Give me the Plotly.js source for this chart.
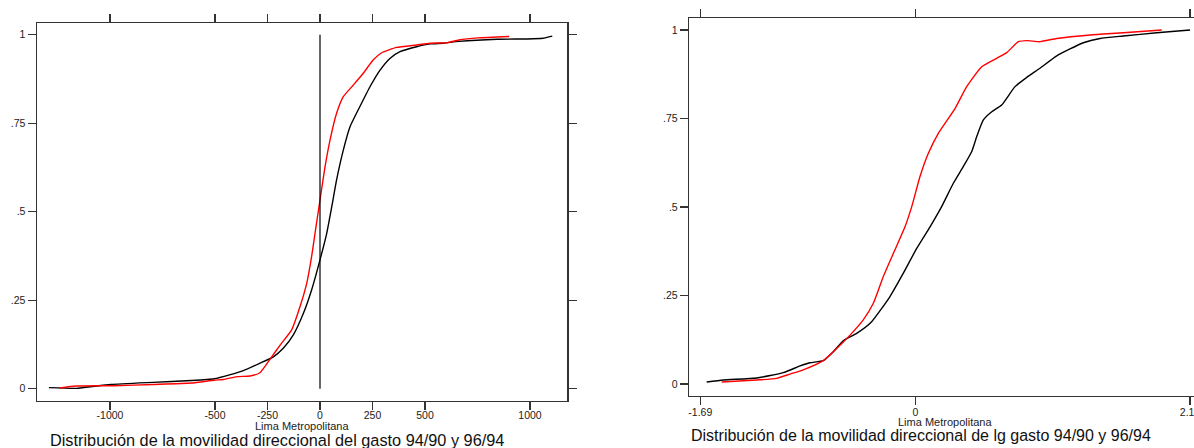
<!DOCTYPE html>
<html><head><meta charset="utf-8">
<script src="https://cdn.plot.ly/plotly-3.0.1.min.js"></script>
<style>html,body{margin:0;padding:0;background:#fff}#chart{width:1194px;height:448px}</style>
</head><body><div id="chart"></div>
<script>
// ---- Left chart data (gasto, level change) ----
const gastoBlackX = [-1291,-1160,-1087,-996,-796,-613,-504,-431,-365,-286,-222,-175,-127,-79,-40,0,32,56,79,111,143,190,238,286,333,381,460,524,588,661,843,989,1061,1106];
const gastoBlackY = [0.003,0.001,0.006,0.012,0.018,0.023,0.028,0.039,0.051,0.072,0.090,0.114,0.152,0.213,0.279,0.364,0.439,0.514,0.590,0.674,0.740,0.797,0.853,0.900,0.933,0.952,0.966,0.974,0.976,0.981,0.987,0.988,0.990,0.996];
const gastoRedX = [-1242,-1160,-978,-796,-613,-504,-460,-395,-333,-286,-230,-190,-135,-95,-63,-40,-19,0,24,48,79,111,159,206,254,294,365,460,524,603,661,752,901];
const gastoRedY = [0.002,0.0075,0.0085,0.012,0.016,0.024,0.026,0.034,0.036,0.045,0.090,0.123,0.166,0.232,0.298,0.373,0.458,0.533,0.627,0.703,0.778,0.825,0.858,0.891,0.929,0.949,0.964,0.971,0.976,0.977,0.985,0.991,0.995];
const refLineX = [0, 0];
const refLineY = [0, 1];
const gastoTicks = [-1000,-500,-250,0,250,500,1000];

// ---- Right chart data (log gasto change) ----
const lgBlackX = [-1.640,-1.509,-1.247,-1.038,-0.906,-0.828,-0.723,-0.645,-0.566,-0.461,-0.343,-0.199,-0.094,0.011,0.116,0.207,0.299,0.377,0.443,0.483,0.535,0.601,0.679,0.784,0.876,0.980,1.112,1.321,1.452,1.635,1.898,2.160];
const lgBlackY = [0.0056,0.0113,0.017,0.032,0.051,0.060,0.066,0.091,0.122,0.143,0.176,0.247,0.313,0.383,0.444,0.501,0.567,0.614,0.656,0.699,0.746,0.769,0.788,0.840,0.866,0.892,0.927,0.964,0.976,0.983,0.992,1.000];
const lgRedX = [-1.522,-1.247,-1.090,-0.985,-0.881,-0.723,-0.618,-0.513,-0.409,-0.330,-0.252,-0.160,-0.081,-0.028,0.037,0.102,0.181,0.312,0.404,0.522,0.640,0.719,0.810,0.876,0.980,1.112,1.374,1.635,1.937];
const lgRedY = [0.0056,0.0113,0.016,0.028,0.040,0.066,0.100,0.138,0.181,0.228,0.303,0.379,0.444,0.501,0.586,0.651,0.708,0.778,0.840,0.896,0.920,0.936,0.967,0.970,0.967,0.976,0.986,0.992,1.000];
const lgTicks = [-1.69, 0, 2.16];
const lgTickText = ['-1.69', '0', '2.16'];

const yTicks = [0, 0.25, 0.5, 0.75, 1];
const yTickText = ['0', '.25', '.5', '.75', '1'];

const axisTitle = 'Lima Metropolitana';
const subLeft = 'Distribución de la movilidad direccional del gasto 94/90 y 96/94';
const subRight = 'Distribución de la movilidad direccional de lg gasto 94/90 y 96/94';

const W = 1194, H = 448;
const px = v => v / W;
const py = v => 1 - v / H;
const FONT = 'Liberation Sans, Arial, sans-serif';
const INK = '#333';
const tickFont = {family: FONT, size: 10.5, color: '#222'};

const lineStyle = (c) => ({color: c, width: 1.4, shape: 'spline', smoothing: 0.5});

const traces = [
  {x: gastoBlackX, y: gastoBlackY, xaxis: 'x', yaxis: 'y', mode: 'lines', line: lineStyle('#000000'), hoverinfo: 'skip'},
  {x: gastoRedX, y: gastoRedY, xaxis: 'x', yaxis: 'y', mode: 'lines', line: lineStyle('#ff0000'), hoverinfo: 'skip'},
  {x: refLineX, y: refLineY, xaxis: 'x', yaxis: 'y', mode: 'lines', line: {color: '#000', width: 1.2}, hoverinfo: 'skip'},
  {x: lgBlackX, y: lgBlackY, xaxis: 'x2', yaxis: 'y2', mode: 'lines', line: lineStyle('#000000'), hoverinfo: 'skip'},
  {x: lgRedX, y: lgRedY, xaxis: 'x2', yaxis: 'y2', mode: 'lines', line: lineStyle('#ff0000'), hoverinfo: 'skip'}
];

const baseAxis = {showgrid: false, zeroline: false, showline: true, linecolor: INK, linewidth: 1.2,
  ticks: 'outside', tickcolor: INK, tickwidth: 1.2, tickfont: tickFont, fixedrange: true,
  ticklabeloverflow: 'allow'};

const layout = {
  width: W, height: H, margin: {l: 0, r: 0, t: 0, b: 0},
  paper_bgcolor: '#fff', plot_bgcolor: '#fff', showlegend: false,
  xaxis: Object.assign({}, baseAxis, {domain: [px(36.7), px(567.3)], range: [-1349, 1177.6], anchor: 'y',
    tickmode: 'array', tickvals: gastoTicks, ticktext: gastoTicks.map(String), ticklen: 8, mirror: 'ticks',
    ticklabelstandoff: -4}),
  yaxis: Object.assign({}, baseAxis, {domain: [py(400.7), py(23)], range: [-0.0339, 1.033], anchor: 'x',
    tickmode: 'array', tickvals: yTicks, ticktext: yTickText, ticklen: 8, mirror: 'ticks'}),
  xaxis2: Object.assign({}, baseAxis, {domain: [px(689), 1], range: [-1.779, 2.191], anchor: 'y2',
    tickmode: 'array', tickvals: lgTicks, ticktext: lgTickText, ticklen: 8, mirror: 'ticks',
    ticklabelstandoff: -2}),
  yaxis2: Object.assign({}, baseAxis, {domain: [py(395.7), py(17.7)], range: [-0.0331, 1.0347], anchor: 'x2',
    tickmode: 'array', tickvals: yTicks, ticktext: yTickText, ticklen: 8, mirror: false}),
  annotations: [
    {text: axisTitle, xref: 'paper', yref: 'paper', x: px(302), y: py(426.3), xanchor: 'center', yanchor: 'middle',
      showarrow: false, font: {family: FONT, size: 11, color: '#222'}},
    {text: axisTitle, xref: 'paper', yref: 'paper', x: px(945), y: py(422.3), xanchor: 'center', yanchor: 'middle',
      showarrow: false, font: {family: FONT, size: 11, color: '#222'}},
    {text: subLeft, xref: 'paper', yref: 'paper', x: px(276.7), y: py(440.3), xanchor: 'center', yanchor: 'middle',
      showarrow: false, font: {family: FONT, size: 16.3, color: '#111'}},
    {text: subRight, xref: 'paper', yref: 'paper', x: px(921.2), y: py(435.7), xanchor: 'center', yanchor: 'middle',
      showarrow: false, font: {family: FONT, size: 16, color: '#111'}}
  ]
};

Plotly.newPlot('chart', traces, layout, {staticPlot: true, displayModeBar: false});
</script></body></html>
